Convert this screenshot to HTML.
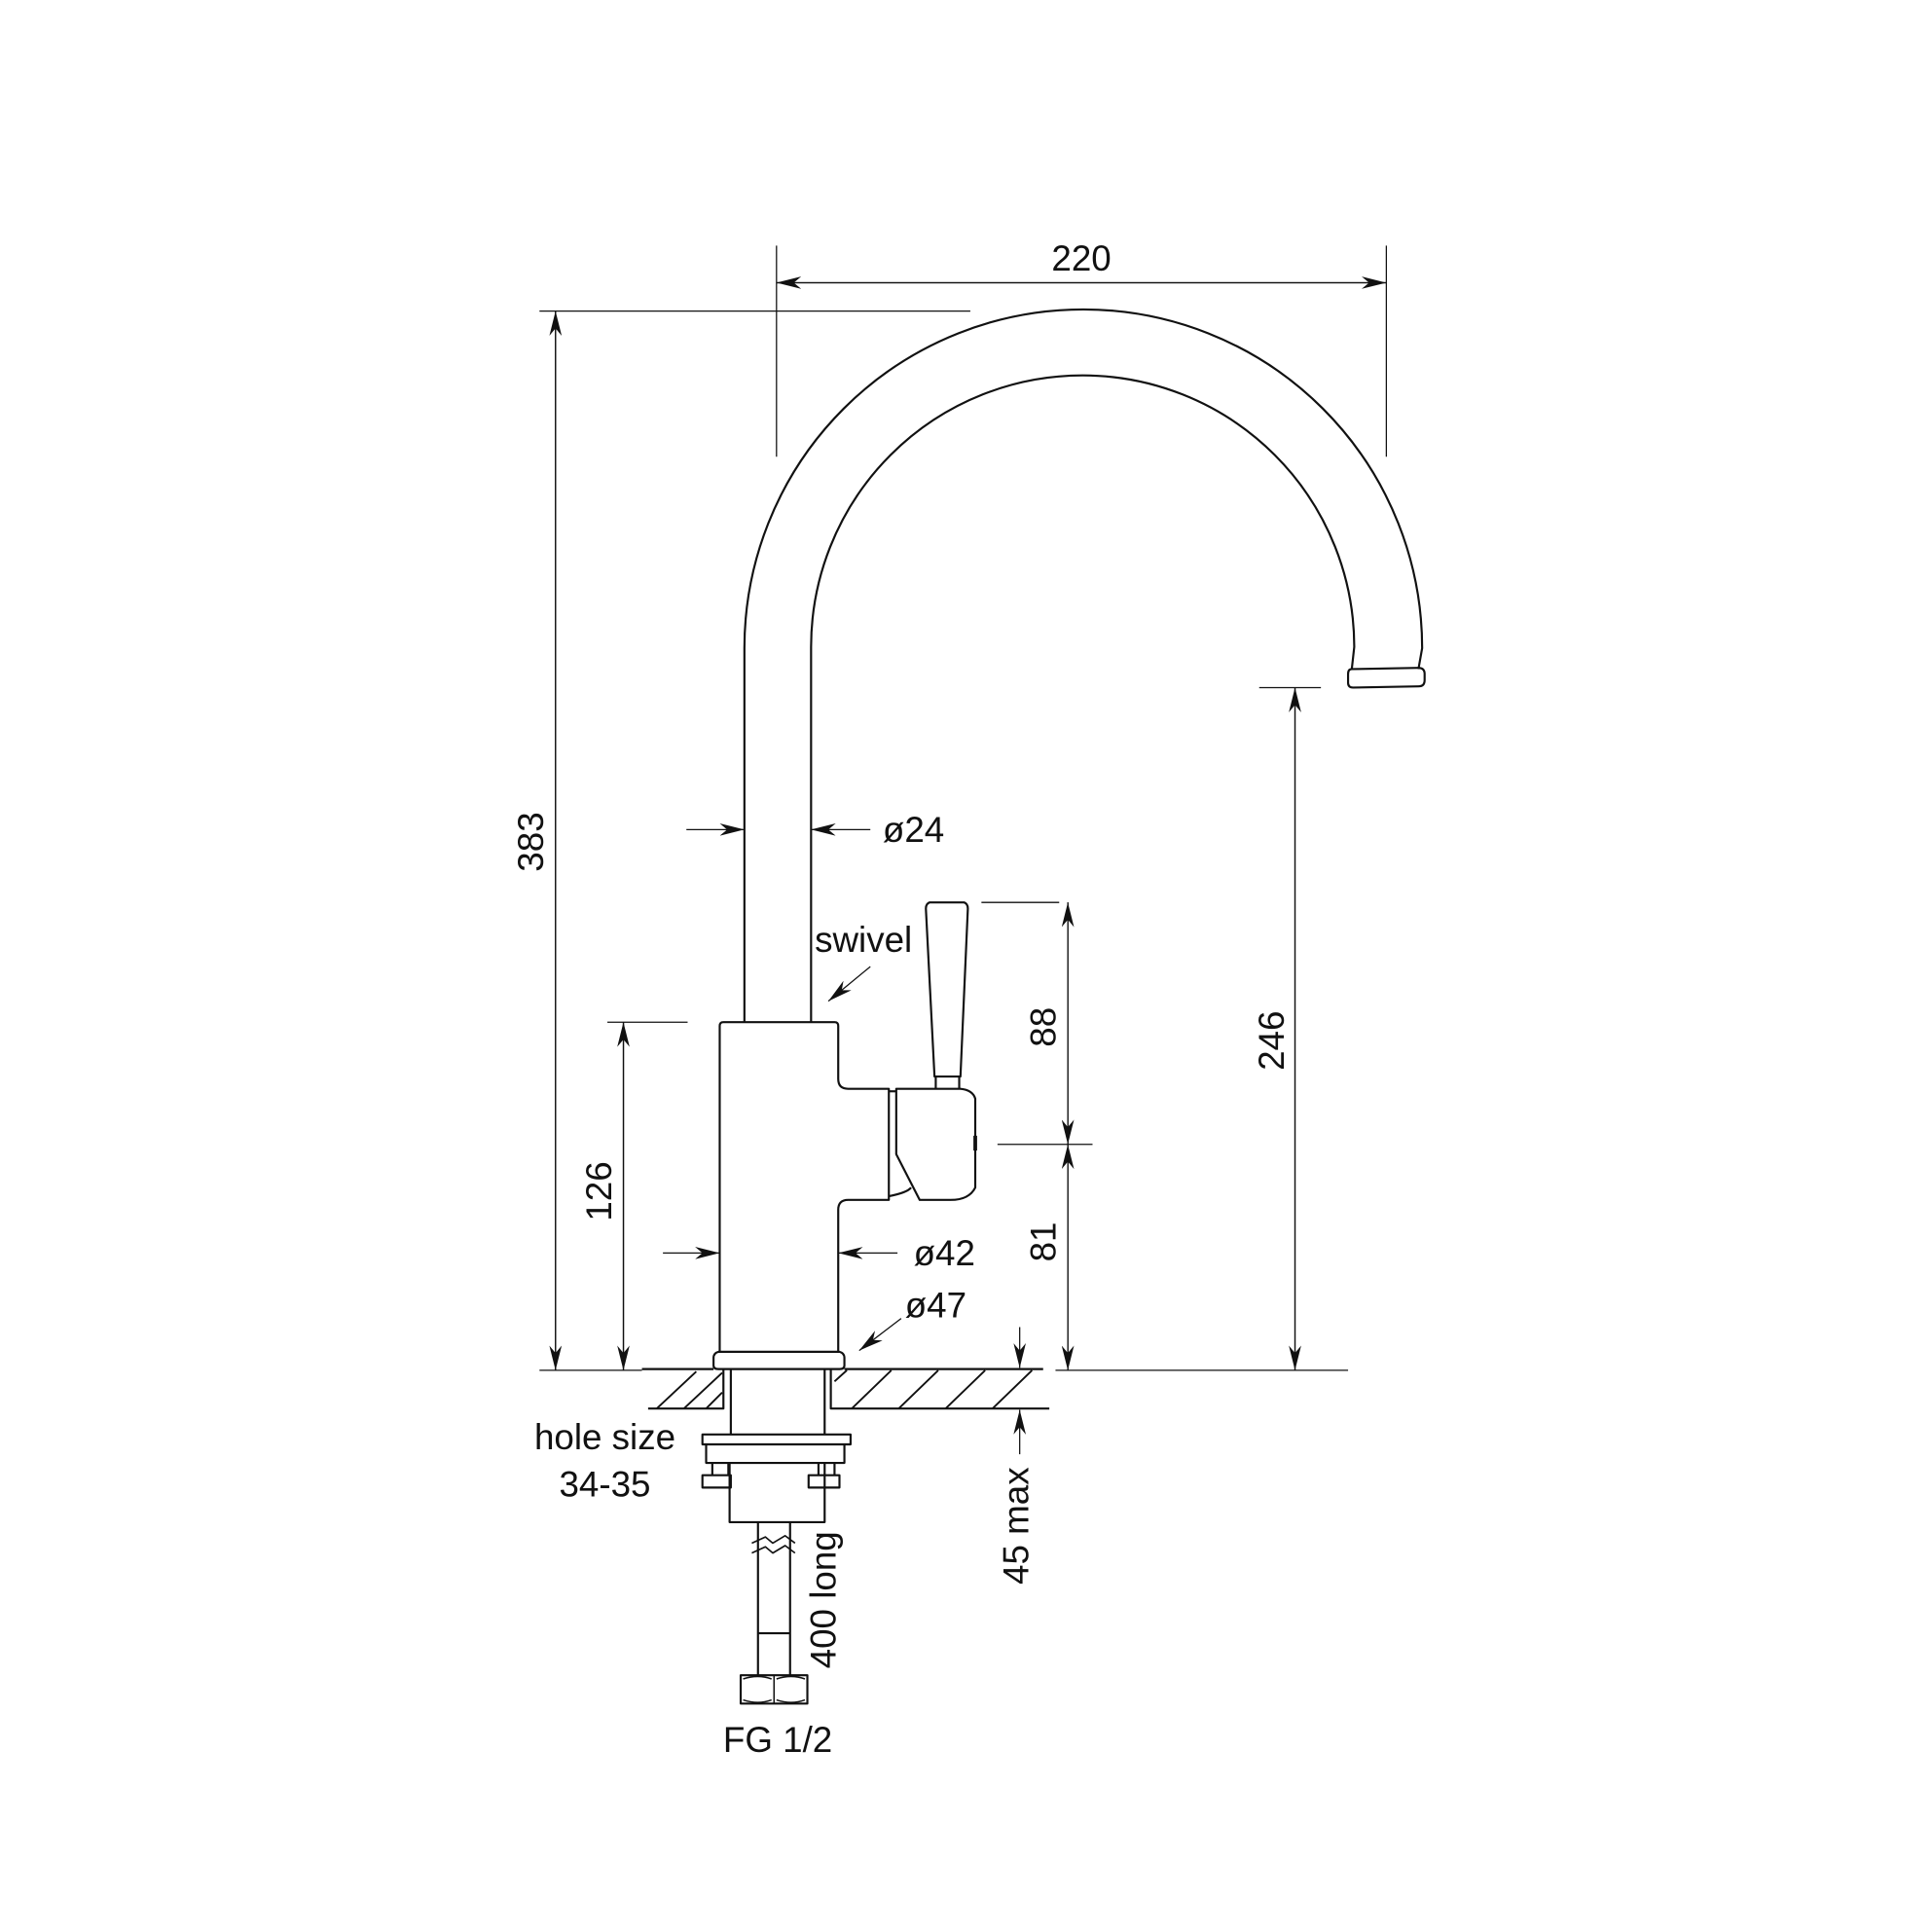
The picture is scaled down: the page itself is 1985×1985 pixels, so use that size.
<!DOCTYPE html>
<html><head><meta charset="utf-8"><style>
html,body{margin:0;padding:0;background:#fff;}
svg{display:block;}
text{font-family:"Liberation Sans",sans-serif;font-size:29px;fill:#111;}
</style></head><body>
<svg width="1985" height="1985" viewBox="0 0 1565 1565" xmlns="http://www.w3.org/2000/svg">
<defs>
<marker id="a" viewBox="0 0 20 10" refX="20" refY="5" markerWidth="20" markerHeight="10" markerUnits="userSpaceOnUse" orient="auto">
<path d="M0,0 L20,5 L0,10 L6,5 Z" fill="#111"/></marker>
</defs>
<g fill="none" stroke="#111" stroke-width="1.7" stroke-linejoin="round">
<!-- spout -->
<path d="M603,828 L603,525 A274.5,274.5 0 0 1 1152,525 L1149,542"/>
<path d="M657,828 L657,524 A220,220 0 0 1 1097,524 L1095,542"/>
<path d="M1095,542 L1149,541 Q1154,541 1154,546 L1154,551 Q1154,556 1149,556 L1096,557 Q1092,557 1092,553 L1092,546 Q1092,542 1095,542 Z"/>
<!-- body -->
<path d="M583,1095 L583,831 Q583,828 586,828 L676,828 Q679,828 679,831 L679,874 Q679,882 687,882 L720,882 L720,972 L687,972 Q679,972 679,980 L679,1095"/>
<path d="M720,884 L726,884"/>
<path d="M726,882 L726,935 L745,972 L770,972 Q785,972 790,962 L790,890 Q788,883 778,882 Z"/>
<path d="M720,969 Q735,966 738,962"/>
<path d="M790,920 L790,932" stroke-width="3"/>
<!-- handle -->
<path d="M753,731 L781,731 Q784,732 784,736 L778,872 L757,872 L750,736 Q750,732 753,731 Z"/>
<path d="M758,872 L758,882 M777,872 L777,882"/>
<!-- flange -->
<path d="M582,1095 L680,1095 Q684,1096 684,1100 L684,1106 Q684,1109 680,1109 L582,1109 Q578,1109 578,1106 L578,1100 Q578,1096 582,1095 Z"/>
<!-- deck -->
<path d="M520,1109 L578,1109 M684,1109 L845,1109"/>
<path d="M525,1141 L586,1141 L586,1109 M673,1109 L673,1141 L850,1141"/>
<path d="M592,1109 L592,1162 M668,1109 L668,1162"/>
<!-- washer -->
<rect x="569" y="1162" width="120" height="8"/>
<path d="M572,1170 L572,1185 L684,1185 L684,1170"/>
<path d="M577,1185 L577,1195 M590,1185 L590,1195 M663,1185 L663,1195 M676,1185 L676,1195"/>
<path d="M569,1195 L592,1195 L592,1205 L569,1205 Z M655,1195 L680,1195 L680,1205 L655,1205 Z"/>
<path d="M591,1185 L591,1233 L668,1233 L668,1185"/>
<!-- hose -->
<path d="M614,1233 L614,1357 M640,1233 L640,1357"/>
<path d="M609,1250 L620,1245 L626,1250 L636,1244 L644,1250 M609,1258 L620,1253 L626,1258 L636,1252 L644,1258" stroke-width="1.3"/>
<path d="M614,1323 L640,1323"/>
<rect x="600" y="1357" width="54" height="23"/>
<path d="M627,1357 L627,1380 M602,1360 Q614,1356 625,1360 M629,1360 Q641,1356 652,1360 M602,1377 Q614,1381 625,1377 M629,1377 Q641,1381 652,1377" stroke-width="1.2"/>
</g>
<!-- hatching -->
<g stroke="#111" stroke-width="1.5">
<path d="M532,1141 L564,1111 M554,1141 L585,1112 M572,1141 L585,1128"/>
<path d="M676,1119 L686,1110 M690,1141 L722,1110 M728,1141 L760,1110 M766,1141 L798,1110 M804,1141 L836,1110"/>
</g>
<!-- dimension lines -->
<g stroke="#111" stroke-width="1" fill="none">
<path d="M629,199 L629,370 M1123,199 L1123,370"/>
<path d="M629,229 L1123,229" marker-end="url(#a)"/><path d="M1123,229 L629,229" marker-end="url(#a)"/>
<path d="M437,252 L786,252 M437,1110 L520,1110"/>
<path d="M450,1110 L450,252" marker-end="url(#a)"/><path d="M450,252 L450,1110" marker-end="url(#a)"/>
<path d="M492,828 L557,828"/>
<path d="M505,1110 L505,828" marker-end="url(#a)"/><path d="M505,828 L505,1110" marker-end="url(#a)"/>
<path d="M556,672 L603,672" marker-end="url(#a)"/><path d="M705,672 L657,672" marker-end="url(#a)"/>
<path d="M537,1015 L583,1015" marker-end="url(#a)"/><path d="M727,1015 L679,1015" marker-end="url(#a)"/>
<path d="M730,1068 L696,1094" marker-end="url(#a)"/>
<path d="M705,783 L671,811" marker-end="url(#a)"/>
<path d="M795,731 L858,731 M808,927 L885,927"/>
<path d="M865,927 L865,731" marker-end="url(#a)"/><path d="M865,731 L865,927" marker-end="url(#a)"/>
<path d="M865,1110 L865,927" marker-end="url(#a)"/><path d="M865,927 L865,1110" marker-end="url(#a)"/>
<path d="M1020,557 L1070,557 M855,1110 L1092,1110"/>
<path d="M1049,1110 L1049,557" marker-end="url(#a)"/><path d="M1049,557 L1049,1110" marker-end="url(#a)"/>
<path d="M826,1075 L826,1108" marker-end="url(#a)"/><path d="M826,1178 L826,1142" marker-end="url(#a)"/>
</g>
<text x="876" y="219" text-anchor="middle">220</text>
<text transform="translate(440,682) rotate(-90)" text-anchor="middle">383</text>
<text transform="translate(495,965) rotate(-90)" text-anchor="middle">126</text>
<text x="715" y="682">ø24</text>
<text x="660" y="771">swivel</text>
<text x="740" y="1025">ø42</text>
<text x="733" y="1067">ø47</text>
<text transform="translate(855,832) rotate(-90)" text-anchor="middle">88</text>
<text transform="translate(855,1006) rotate(-90)" text-anchor="middle">81</text>
<text transform="translate(1040,843) rotate(-90)" text-anchor="middle">246</text>
<text transform="translate(833,1236) rotate(-90)" text-anchor="middle">45 max</text>
<text x="490" y="1174" text-anchor="middle">hole size</text>
<text x="490" y="1212" text-anchor="middle">34-35</text>
<text transform="translate(677,1296) rotate(-90)" text-anchor="middle">400 long</text>
<text x="630" y="1419" text-anchor="middle">FG 1/2</text>
</svg>
</body></html>
